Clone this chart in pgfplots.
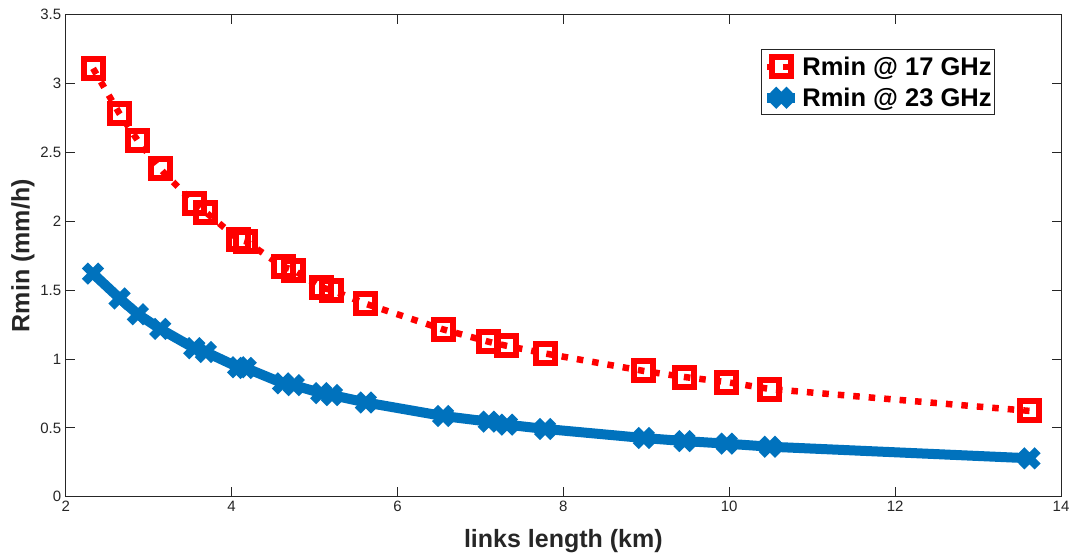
\documentclass[border=0pt]{standalone}
\usepackage{fontspec}
\setmainfont{Liberation Sans}
\usepackage{pgfplots}
\pgfplotsset{compat=1.18}

\definecolor{rred}{rgb}{1,0,0}
\definecolor{rblue}{rgb}{0,0.447,0.741}
\definecolor{axgray}{rgb}{0.15,0.15,0.15}

% minimum rain rate versus link length, one table per frequency
\pgfplotstableread{
len   r17
2.33  3.110
2.65  2.780
2.87  2.585
3.14  2.380
3.55  2.130
3.69  2.065
4.08  1.870
4.17  1.855
4.62  1.670
4.75  1.645
5.08  1.520
5.21  1.500
5.62  1.400
6.55  1.215
7.10  1.125
7.32  1.095
7.78  1.040
8.97  0.913
9.46  0.869
9.97  0.832
10.49 0.782
13.62 0.623
}\rseventeen
\pgfplotstableread{
len   r23
2.33  1.620
2.65  1.440
2.87  1.325
3.14  1.218
3.55  1.078
3.69  1.050
4.08  0.940
4.17  0.935
4.62  0.823
4.75  0.810
5.08  0.752
5.21  0.738
5.62  0.684
6.55  0.586
7.10  0.545
7.32  0.523
7.78  0.492
8.97  0.426
9.46  0.404
9.97  0.385
10.49 0.363
13.62 0.279
}\rtwentythree

\begin{document}
\begin{tikzpicture}[x=1pt,y=1pt]
\useasboundingbox (-65.7,-59.3) rectangle (1004.3,496.7);
\begin{axis}[
  at={(0,0)}, anchor=south west,
  scale only axis, width=995.3pt, height=482pt,
  xmin=2, xmax=14, ymin=0, ymax=3.5,
  xtick={2,4,6,8,10,12,14},
  ytick={0,0.5,1,1.5,2,2.5,3,3.5},
  xtick pos=both, ytick pos=both,
  tick align=inside,
  major tick length=9.5pt,
  axis line style={axgray, line width=0.9pt},
  every tick/.style={axgray, line width=0.9pt},
  /pgf/number format/assume math mode=true,
  yticklabel style={/pgf/number format/fixed},
  tick label style={font=\fontsize{15}{18}\selectfont, text=axgray},
  xticklabel style={yshift=-1pt},
  yticklabel style={xshift=-1pt},
  xlabel={links length (km)},
  ylabel={Rmin (mm/h)},
  label style={font=\fontsize{25}{29}\selectfont\bfseries, text=axgray},
  xlabel style={at={(axis description cs:0.5,-0.0919)}, anchor=center},
  ylabel style={at={(axis description cs:-0.0429,0.5)}, anchor=center},
  legend style={
    at={(0.9337,0.928)}, anchor=north east,
    draw=axgray, line width=0.8pt,
    font=\fontsize{25.5}{29}\selectfont\bfseries,
    inner xsep=1pt, inner ysep=5pt,
    row sep=7pt,
    /tikz/every even column/.append style={column sep=1pt},
  },
  legend cell align=left,
  legend image code/.code={
    \draw[mark repeat=2, mark phase=2, #1]
      plot coordinates {(0pt,0pt) (14pt,0pt) (28pt,0pt)};
  },
]
\addplot[rred, line width=6.5pt, dash pattern=on 6.5pt off 9pt,
  mark=square, mark size=9.5pt,
  mark options={solid, line width=6pt}]
  table[x=len, y=r17] {\rseventeen};
\addlegendentry{Rmin @ 17 GHz}

\addplot[rblue, line width=10pt,
  mark=x, mark size=11.5pt,
  mark options={solid, line width=8.5pt}]
  table[x=len, y=r23] {\rtwentythree};
\addlegendentry{Rmin @ 23 GHz}
\end{axis}
\end{tikzpicture}
\end{document}
